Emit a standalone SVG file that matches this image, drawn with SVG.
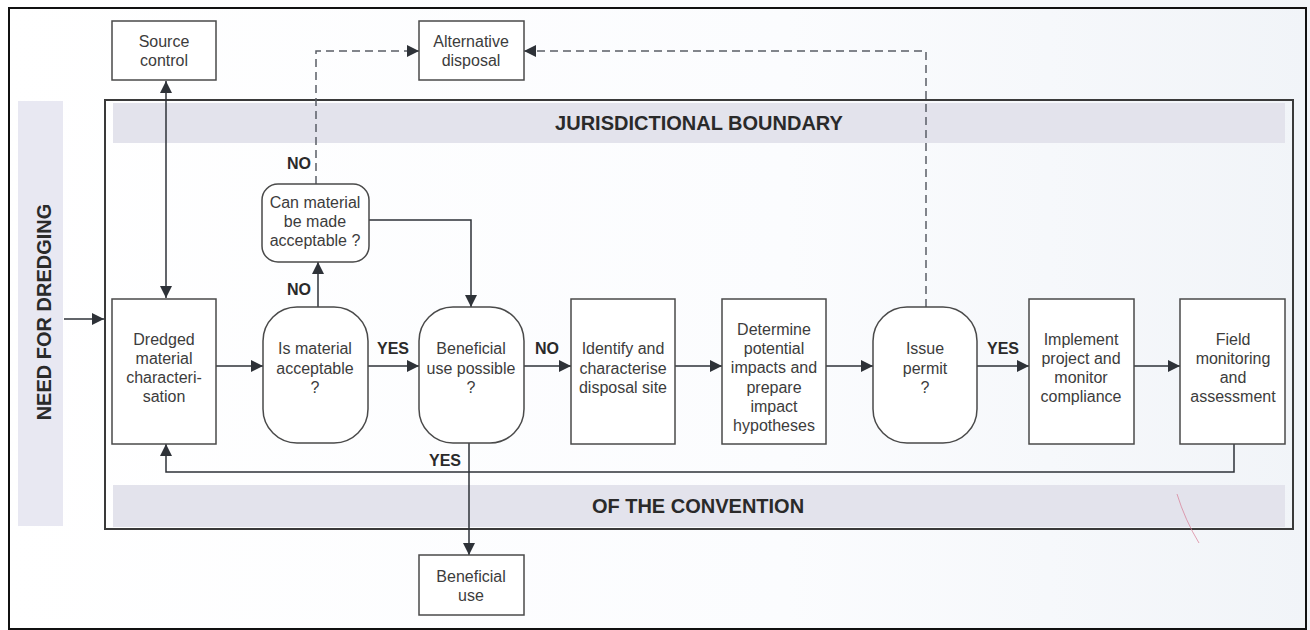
<svg xmlns="http://www.w3.org/2000/svg" width="1310" height="630" viewBox="0 0 1310 630">
  <defs>
    <marker id="arrow" viewBox="0 0 10 10" refX="10" refY="5" markerWidth="12" markerHeight="12" markerUnits="userSpaceOnUse" orient="auto-start-reverse">
      <path d="M0,0 L10,5 L0,10 Z" fill="#2e3238"/>
    </marker>
    <linearGradient id="paper" x1="0" y1="0" x2="1" y2="0">
      <stop offset="0" stop-color="#ffffff"/>
      <stop offset="0.6" stop-color="#fbfcfe"/>
      <stop offset="1" stop-color="#f1f4f8"/>
    </linearGradient>
  </defs>
  <style>
    .box { fill: #ffffff; stroke: #4a4a4a; stroke-width: 1.5; }
    .dec { fill: #ffffff; stroke: #4a4a4a; stroke-width: 1.5; }
    .txt { font-family: "Liberation Sans", Arial, sans-serif; font-size: 16px; fill: #3c3c3c; text-anchor: middle; }
    .lbl { font-family: "Liberation Sans", Arial, sans-serif; font-size: 16px; font-weight: bold; fill: #2a2a2a; text-anchor: middle; }
    .band { font-family: "Liberation Sans", Arial, sans-serif; font-size: 20px; font-weight: bold; fill: #2a2a2a; text-anchor: middle; }
    .ln { fill: none; stroke: #2e3238; stroke-width: 1.5; }
    .dash { fill: none; stroke: #5a5e66; stroke-width: 1.5; stroke-dasharray: 8 5; }
  </style>

  <!-- page and outer frame -->
  <rect x="0" y="0" width="1310" height="630" fill="url(#paper)"/>
  <rect x="9" y="8" width="1297" height="621" fill="none" stroke="#111" stroke-width="2"/>

  <!-- side band -->
  <g id="need-for-dredging">
    <rect x="18" y="101" width="45" height="425" fill="#e8e8f2"/>
    <text class="band" transform="translate(51,312) rotate(-90)">NEED FOR DREDGING</text>
  </g>

  <!-- jurisdictional boundary -->
  <g id="boundary">
    <rect x="105" y="100" width="1188" height="429" fill="none" stroke="#3a3a3a" stroke-width="2"/>
    <rect x="113" y="103" width="1172" height="40" fill="#e3e3ec"/>
    <text class="band" x="699" y="130">JURISDICTIONAL BOUNDARY</text>
    <rect x="113" y="485" width="1172" height="42" fill="#e3e3ec"/>
    <text class="band" x="698" y="513">OF THE CONVENTION</text>
  </g>

  <!-- connectors -->
  <g id="connectors">
    <line class="ln" x1="64" y1="319" x2="104" y2="319" marker-end="url(#arrow)"/>
    <line class="ln" x1="166" y1="81" x2="166" y2="298" marker-start="url(#arrow)" marker-end="url(#arrow)"/>
    <line class="ln" x1="216" y1="366" x2="263" y2="366" marker-end="url(#arrow)"/>
    <line class="ln" x1="318" y1="307" x2="318" y2="262" marker-end="url(#arrow)"/>
    <line class="ln" x1="368" y1="366" x2="419" y2="366" marker-end="url(#arrow)"/>
    <polyline class="ln" points="369,220 471,220 471,307" marker-end="url(#arrow)"/>
    <line class="ln" x1="524" y1="366" x2="571" y2="366" marker-end="url(#arrow)"/>
    <line class="ln" x1="675" y1="366" x2="722" y2="366" marker-end="url(#arrow)"/>
    <line class="ln" x1="826" y1="366" x2="873" y2="366" marker-end="url(#arrow)"/>
    <line class="ln" x1="977" y1="366" x2="1029" y2="366" marker-end="url(#arrow)"/>
    <line class="ln" x1="1134" y1="366" x2="1180" y2="366" marker-end="url(#arrow)"/>
    <polyline class="ln" points="1234,444 1234,472 166,472 166,444" marker-end="url(#arrow)"/>
    <line class="ln" x1="469" y1="443" x2="469" y2="555" marker-end="url(#arrow)"/>
    <polyline class="dash" points="316,184 316,51 419,51" marker-end="url(#arrow)"/>
    <polyline class="dash" points="926,307 926,51 524,51" marker-end="url(#arrow)"/>
    <text class="lbl" x="299" y="169">NO</text>
    <text class="lbl" x="299" y="295">NO</text>
    <text class="lbl" x="393" y="354">YES</text>
    <text class="lbl" x="547" y="354">NO</text>
    <text class="lbl" x="1003" y="354">YES</text>
    <text class="lbl" x="445" y="466">YES</text>
  </g>

  <!-- nodes -->
  <g id="source-control">
    <rect class="box" x="112" y="21" width="104" height="59"/>
    <text class="txt" x="164" y="47">Source</text>
    <text class="txt" x="164" y="66">control</text>
  </g>
  <g id="alternative-disposal">
    <rect class="box" x="419" y="21" width="105" height="59"/>
    <text class="txt" x="471" y="47">Alternative</text>
    <text class="txt" x="471" y="66">disposal</text>
  </g>
  <g id="can-material">
    <rect class="dec" x="262" y="184" width="107" height="78" rx="16"/>
    <text class="txt" x="315" y="208">Can material</text>
    <text class="txt" x="315" y="227">be made</text>
    <text class="txt" x="315" y="246">acceptable ?</text>
  </g>
  <g id="dredged-material">
    <rect class="box" x="112" y="299" width="104" height="145"/>
    <text class="txt" x="164" y="345">Dredged</text>
    <text class="txt" x="164" y="364">material</text>
    <text class="txt" x="164" y="383">characteri-</text>
    <text class="txt" x="164" y="402">sation</text>
  </g>
  <g id="is-acceptable">
    <rect class="dec" x="263" y="307" width="105" height="136" rx="34"/>
    <text class="txt" x="315" y="354">Is material</text>
    <text class="txt" x="315" y="374">acceptable</text>
    <text class="txt" x="315" y="393">?</text>
  </g>
  <g id="beneficial-possible">
    <rect class="dec" x="419" y="307" width="105" height="136" rx="34"/>
    <text class="txt" x="471" y="354">Beneficial</text>
    <text class="txt" x="471" y="374">use possible</text>
    <text class="txt" x="471" y="393">?</text>
  </g>
  <g id="identify-site">
    <rect class="box" x="571" y="299" width="104" height="145"/>
    <text class="txt" x="623" y="354">Identify and</text>
    <text class="txt" x="623" y="374">characterise</text>
    <text class="txt" x="623" y="393">disposal site</text>
  </g>
  <g id="determine-impacts">
    <rect class="box" x="722" y="299" width="104" height="145"/>
    <text class="txt" x="774" y="335">Determine</text>
    <text class="txt" x="774" y="354">potential</text>
    <text class="txt" x="774" y="373">impacts and</text>
    <text class="txt" x="774" y="393">prepare</text>
    <text class="txt" x="774" y="412">impact</text>
    <text class="txt" x="774" y="431">hypotheses</text>
  </g>
  <g id="issue-permit">
    <rect class="dec" x="873" y="307" width="104" height="136" rx="34"/>
    <text class="txt" x="925" y="354">Issue</text>
    <text class="txt" x="925" y="374">permit</text>
    <text class="txt" x="925" y="393">?</text>
  </g>
  <g id="implement-project">
    <rect class="box" x="1029" y="299" width="105" height="145"/>
    <text class="txt" x="1081" y="345">Implement</text>
    <text class="txt" x="1081" y="364">project and</text>
    <text class="txt" x="1081" y="383">monitor</text>
    <text class="txt" x="1081" y="402">compliance</text>
  </g>
  <g id="field-monitoring">
    <rect class="box" x="1180" y="299" width="105" height="145"/>
    <text class="txt" x="1233" y="345">Field</text>
    <text class="txt" x="1233" y="364">monitoring</text>
    <text class="txt" x="1233" y="383">and</text>
    <text class="txt" x="1233" y="402">assessment</text>
  </g>
  <g id="beneficial-use">
    <rect class="box" x="419" y="555" width="105" height="60"/>
    <text class="txt" x="471" y="582">Beneficial</text>
    <text class="txt" x="471" y="601">use</text>
  </g>

  <!-- stray pen mark -->
  <path d="M1177,494 Q1185,520 1199,543" fill="none" stroke="#d77a93" stroke-width="1" opacity="0.7"/>
</svg>
